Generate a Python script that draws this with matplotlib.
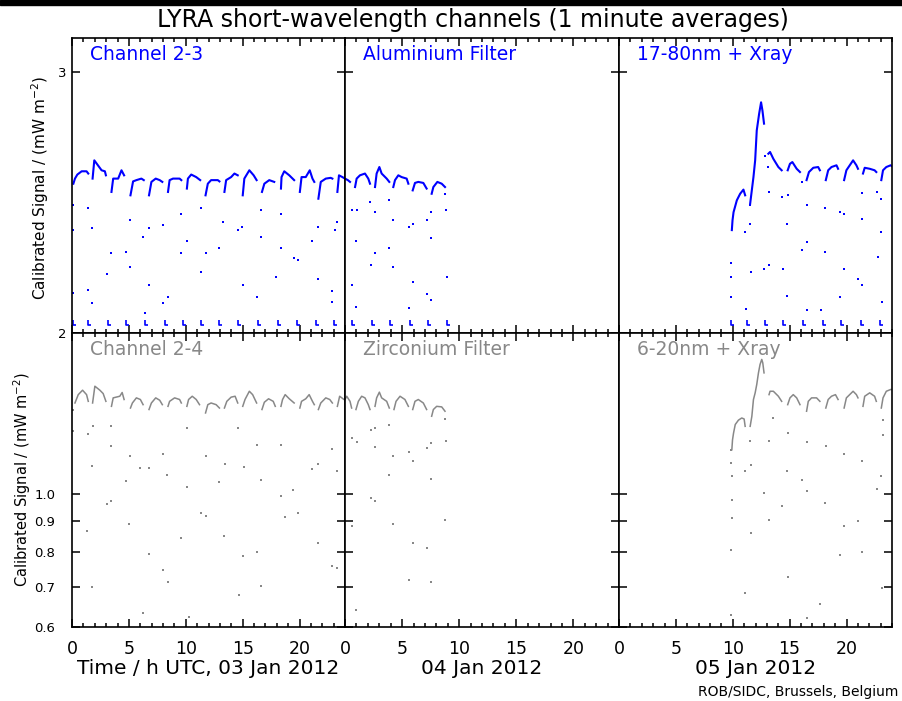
import numpy as np
import matplotlib
matplotlib.use("Agg")
import matplotlib.pyplot as plt
from matplotlib.path import Path
from matplotlib.patches import Rectangle
from matplotlib.ticker import FixedLocator, MultipleLocator, NullLocator, NullFormatter

nan = np.nan

# ---- 03 Jan 2012 -------------------------------------------------------
# Channel 2-3 (top), orbit segments split by nan
d1_ch23_t = [0.12, 0.26, 0.47, 0.85, 1.28, 1.43, nan,
             1.81, 1.96, 2.60, 2.89, 2.98, nan,
             3.47, 3.62, 4.06, 4.35, 4.58, nan,
             5.14, 5.37, 5.66, 6.10, 6.31, nan,
             6.77, 6.98, 7.36, 7.71, 7.94, nan,
             8.44, 8.58, 8.88, 9.46, 9.61, nan,
             10.10, 10.19, 10.48, 10.92, 11.27, nan,
             11.74, 11.94, 12.23, 12.82, 12.96, nan,
             13.40, 13.55, 13.99, 14.28, 14.57, nan,
             15.01, 15.15, 15.59, 15.97, 16.23, nan,
             16.70, 16.91, 17.34, 17.78, nan,
             18.37, 18.42, 18.66, 19.10, 19.53, nan,
             20.03, 20.18, 20.55, 20.90, 21.14, 21.30, nan,
             21.66, 21.87, 22.31, 22.74, 22.89, nan,
             23.33, 23.47, 23.77, 24.0]
d1_ch23_v = [2.521, 2.541, 2.557, 2.570, 2.570, 2.561, nan,
             2.541, 2.614, 2.574, 2.570, 2.554, nan,
             2.489, 2.541, 2.541, 2.574, 2.554, nan,
             2.476, 2.530, 2.535, 2.541, 2.535, nan,
             2.476, 2.528, 2.541, 2.535, 2.528, nan,
             2.489, 2.535, 2.541, 2.541, 2.535, nan,
             2.502, 2.541, 2.557, 2.547, 2.535, nan,
             2.476, 2.521, 2.535, 2.535, 2.530, nan,
             2.489, 2.535, 2.547, 2.561, 2.554, nan,
             2.476, 2.541, 2.574, 2.554, 2.535, nan,
             2.489, 2.521, 2.535, 2.528, nan,
             2.502, 2.547, 2.570, 2.554, 2.535, nan,
             2.489, 2.547, 2.547, 2.574, 2.541, 2.528, nan,
             2.463, 2.528, 2.541, 2.544, 2.541, nan,
             2.489, 2.554, 2.547, 2.541]
d1_ch23_dots_t = [0.12, 0.12, 0.12, 1.43, 1.72, 1.43, 1.72, 3.09, 3.47, 4.73,
                  5.08, 5.08, 6.25, 6.77, 6.77, 6.45, 8.0, 8.0, 8.43, 9.6,
                  9.6, 10.1, 11.35, 11.35, 11.79, 12.9, 13.3, 14.57, 14.95, 15.0,
                  16.26, 16.6, 16.6, 17.92, 18.36, 18.36, 19.53, 19.88, 21.13, 21.65,
                  21.65, 22.88, 22.88, 23.32, 23.1]
d1_ch23_dots_v = [2.438, 2.346, 2.128, 2.426, 2.352, 2.138, 2.094, 2.193, 2.264, 2.268,
                  2.382, 2.215, 2.322, 2.352, 2.154, 2.062, 2.364, 2.094, 2.116, 2.407,
                  2.264, 2.305, 2.426, 2.198, 2.264, 2.280, 2.376, 2.346, 2.358, 2.154,
                  2.116, 2.322, 2.419, 2.181, 2.280, 2.407, 2.246, 2.239, 2.305, 2.358,
                  2.176, 2.133, 2.100, 2.376, 2.346]
d1_floor_t = [0.12, 1.43, 3.18, 4.79, 6.45, 8.14, 9.75, 11.35, 12.96, 14.57,
              16.32, 18.07, 19.82, 21.43, 23.03]
d1_floor_v = [2.03, 2.03, 2.03, 2.03, 2.03, 2.03, 2.03, 2.03, 2.03, 2.03,
              2.03, 2.03, 2.03, 2.03, 2.03]

# Channel 2-4 (bottom)
d1_ch24_t = [0.26, 0.55, 0.93, 1.28, 1.43, nan,
             1.81, 2.01, 2.45, 2.74, 2.98, nan,
             3.47, 3.62, 4.20, 4.41, 4.58, nan,
             5.14, 5.31, 5.66, 6.01, 6.25, nan,
             6.77, 6.98, 7.36, 7.71, 7.94, nan,
             8.44, 8.58, 9.02, 9.46, 9.61, nan,
             10.10, 10.25, 10.57, 10.92, 11.21, nan,
             11.74, 11.94, 12.23, 12.67, 12.96, nan,
             13.40, 13.61, 13.99, 14.34, 14.57, nan,
             15.01, 15.21, 15.59, 15.88, 16.23, nan,
             16.70, 16.91, 17.28, 17.69, 17.87, nan,
             18.37, 18.51, 18.74, 19.10, 19.53, nan,
             20.03, 20.18, 20.55, 20.85, 21.14, 21.30, nan,
             21.66, 21.87, 22.31, 22.66, 22.89, nan,
             23.33, 23.53, 23.91, 24.0]
d1_ch24_v = [1.415, 1.461, 1.486, 1.461, 1.424, nan,
             1.415, 1.509, 1.486, 1.467, 1.424, nan,
             1.397, 1.443, 1.452, 1.473, 1.434, nan,
             1.388, 1.415, 1.443, 1.434, 1.406, nan,
             1.380, 1.415, 1.443, 1.430, 1.406, nan,
             1.397, 1.424, 1.443, 1.434, 1.415, nan,
             1.397, 1.434, 1.452, 1.434, 1.406, nan,
             1.362, 1.406, 1.415, 1.406, 1.388, nan,
             1.388, 1.424, 1.447, 1.452, 1.415, nan,
             1.397, 1.434, 1.480, 1.461, 1.415, nan,
             1.380, 1.419, 1.438, 1.424, 1.397, nan,
             1.397, 1.434, 1.461, 1.438, 1.415, nan,
             1.388, 1.424, 1.438, 1.461, 1.424, 1.406, nan,
             1.380, 1.415, 1.443, 1.434, 1.415, nan,
             1.397, 1.452, 1.434, 1.434]
d1_ch24_dots_t = [0.06, 0.06, 1.43, 1.87, 1.72, 1.34, 1.78, 3.09, 3.47, 3.47,
                  3.47, 4.73, 5.02, 5.08, 5.96, 6.77, 6.77, 6.25, 8.0, 8.35,
                  8.0, 8.43, 9.6, 10.1, 10.1, 10.25, 11.35, 11.74, 11.79, 12.9,
                  13.34, 13.43, 14.57, 14.65, 15.0, 15.09, 16.23, 16.23, 16.6, 16.6,
                  18.36, 18.36, 18.74, 19.47, 19.91, 21.13, 21.65, 21.65, 22.88, 23.26,
                  22.88, 23.32]
d1_ch24_dots_v = [1.269, 1.380, 1.257, 1.294, 1.110, 0.867, 0.699, 0.962, 0.974, 1.199,
                  1.294, 1.051, 0.890, 1.154, 1.103, 1.103, 0.794, 0.634, 1.164, 1.075,
                  0.747, 0.714, 0.843, 1.024, 1.286, 0.623, 0.930, 0.919, 1.157, 1.047,
                  0.849, 1.122, 1.286, 0.677, 0.789, 1.107, 1.203, 0.801, 0.702, 1.055,
                  1.203, 0.992, 0.916, 1.015, 0.930, 1.100, 1.122, 0.827, 0.758, 0.752,
                  1.188, 1.089]

# ---- 04 Jan 2012 -------------------------------------------------------
d2_alu_t = [0.0, 0.25, 0.44, nan,
            0.88, 1.02, 1.31, 1.75, 2.04, 2.19, nan,
            2.63, 2.77, 3.01, 3.21, 3.65, 3.88, nan,
            4.23, 4.38, 4.67, 4.96, 5.40, 5.55, nan,
            5.93, 6.13, 6.42, 6.86, 7.15, nan,
            7.59, 7.74, 8.09, 8.47, 8.76]
d2_alu_v = [2.541, 2.535, 2.528, nan,
            2.508, 2.541, 2.554, 2.561, 2.541, 2.521, nan,
            2.508, 2.561, 2.587, 2.561, 2.541, 2.528, nan,
            2.508, 2.535, 2.554, 2.547, 2.541, 2.521, nan,
            2.495, 2.524, 2.528, 2.524, 2.502, nan,
            2.482, 2.508, 2.528, 2.521, 2.508]
d2_alu_dots_t = [0.58, 1.02, 0.96, 0.58, 0.96, 2.25, 2.63, 2.63, 2.19, 3.88,
                 3.88, 4.23, 4.23, 5.60, 5.93, 5.93, 5.60, 7.15, 7.53, 7.15,
                 7.53, 7.53, 8.76, 8.84, 8.90]
d2_alu_dots_v = [2.419, 2.419, 2.305, 2.154, 2.083, 2.222, 2.412, 2.265, 2.450, 2.280,
                 2.457, 2.382, 2.215, 2.358, 2.370, 2.165, 2.078, 2.382, 2.316, 2.126,
                 2.104, 2.412, 2.482, 2.419, 2.180]
d2_floor_t = [0.58, 2.34, 3.94, 5.69, 7.30, 8.90]
d2_floor_v = [2.03, 2.03, 2.03, 2.03, 2.03, 2.03]

d2_zr_t = [0.0, 0.15, 0.44, 0.58, nan,
           0.96, 1.17, 1.46, 1.75, 2.04, 2.19, nan,
           2.63, 2.77, 3.01, 3.21, 3.65, 3.88, nan,
           4.29, 4.47, 4.82, 5.25, 5.55, nan,
           5.93, 6.13, 6.42, 6.86, 7.15, nan,
           7.59, 7.74, 8.03, 8.47, 8.76]
d2_zr_v = [1.434, 1.452, 1.424, 1.388, nan,
           1.380, 1.424, 1.452, 1.443, 1.406, 1.380, nan,
           1.397, 1.443, 1.475, 1.443, 1.424, 1.388, nan,
           1.380, 1.424, 1.452, 1.434, 1.397, nan,
           1.380, 1.424, 1.434, 1.415, 1.380, nan,
           1.345, 1.380, 1.397, 1.394, 1.371]
d2_zr_dots_t = [0.58, 1.02, 0.58, 0.96, 2.25, 2.63, 2.63, 2.25, 2.63, 3.88,
                3.88, 4.23, 4.23, 5.60, 5.93, 5.93, 5.60, 7.15, 7.53, 7.53,
                7.15, 7.53, 8.76, 8.84, 8.76]
d2_zr_dots_v = [1.237, 1.217, 0.884, 0.640, 1.274, 1.286, 1.195, 0.983, 0.974, 1.075,
                1.303, 1.154, 0.891, 1.171, 1.135, 0.829, 0.719, 1.191, 1.214, 1.057,
                0.812, 0.714, 1.332, 1.222, 0.905]

# ---- 05 Jan 2012 -------------------------------------------------------
d3_euv_t = [9.92, 9.98, 10.07, 10.36, 10.65, 10.94, 11.09, nan,
            11.53, 11.82, 11.97, 12.11, 12.32, 12.49, 12.61, 12.75, nan,
            13.13, 13.28, 13.57, 14.01, 14.30, nan,
            14.83, 15.03, 15.24, 15.62, 15.91, nan,
            16.49, 16.70, 17.08, 17.51, 17.66, nan,
            18.18, 18.39, 18.68, 19.12, 19.26, nan,
            19.79, 19.99, 20.58, 20.87, 21.01, nan,
            21.45, 21.60, 22.04, 22.47, 22.62, nan,
            23.06, 23.21, 23.50, 23.88, 24.0]
d3_euv_v = [2.346, 2.382, 2.412, 2.457, 2.482, 2.498, 2.476, nan,
            2.444, 2.547, 2.614, 2.738, 2.810, 2.860, 2.824, 2.767, nan,
            2.641, 2.648, 2.620, 2.587, 2.574, nan,
            2.574, 2.600, 2.607, 2.580, 2.567, nan,
            2.535, 2.567, 2.584, 2.587, 2.574, nan,
            2.535, 2.574, 2.587, 2.594, 2.580, nan,
            2.535, 2.574, 2.614, 2.594, 2.580, nan,
            2.561, 2.584, 2.580, 2.574, 2.567, nan,
            2.535, 2.574, 2.587, 2.594, 2.590]
d3_euv_dots_t = [9.86, 9.86, 9.86, 11.09, 11.18, 11.53, 11.53, 11.59, 12.84, 13.13,
                 12.79, 13.19, 13.19, 14.36, 14.39, 14.80, 14.83, 14.80, 16.05, 16.49,
                 16.49, 16.11, 16.49, 17.75, 18.10, 18.10, 19.41, 19.79, 19.79, 19.41,
                 21.01, 21.39, 21.39, 21.39, 22.68, 23.06, 23.06, 22.77, 23.12]
d3_euv_dots_v = [2.228, 2.182, 2.115, 2.339, 2.077, 2.370, 2.438, 2.199, 2.630, 2.587,
                 2.210, 2.222, 2.489, 2.468, 2.210, 2.370, 2.476, 2.119, 2.528, 2.440,
                 2.303, 2.276, 2.072, 2.072, 2.428, 2.268, 2.412, 2.406, 2.207, 2.115,
                 2.176, 2.388, 2.485, 2.154, 2.489, 2.462, 2.339, 2.251, 2.098]
d3_floor_t = [9.86, 11.24, 12.84, 14.45, 16.20, 17.95, 19.56, 21.31, 22.91]
d3_floor_v = [2.03, 2.03, 2.03, 2.03, 2.03, 2.03, 2.03, 2.03, 2.03]

d3_sxr_t = [9.92, 9.98, 10.07, 10.22, 10.50, 10.79, 11.00, 11.09, nan,
            11.53, 11.68, 11.82, 11.97, 12.11, 12.26, 12.40, 12.55, 12.64, 12.75, nan,
            13.19, 13.28, 13.57, 14.01, 14.30, nan,
            14.83, 15.03, 15.32, 15.62, 15.91, nan,
            16.49, 16.64, 16.93, 17.37, 17.66, nan,
            18.18, 18.39, 18.68, 19.03, 19.26, nan,
            19.79, 19.99, 20.58, 20.87, 21.01, nan,
            21.45, 21.60, 22.04, 22.47, 22.62, nan,
            23.06, 23.21, 23.50, 23.88, 24.0]
d3_sxr_v = [1.183, 1.229, 1.261, 1.303, 1.325, 1.336, 1.331, 1.294, nan,
            1.294, 1.345, 1.434, 1.471, 1.519, 1.588, 1.640, 1.672, 1.650, 1.588, nan,
            1.461, 1.480, 1.480, 1.452, 1.424, nan,
            1.406, 1.443, 1.461, 1.443, 1.406, nan,
            1.371, 1.424, 1.443, 1.443, 1.424, nan,
            1.388, 1.434, 1.452, 1.461, 1.434, nan,
            1.388, 1.443, 1.480, 1.461, 1.443, nan,
            1.397, 1.452, 1.471, 1.452, 1.424, nan,
            1.388, 1.443, 1.480, 1.490, 1.490]
d3_sxr_dots_t = [9.86, 9.86, 9.92, 9.92, 9.92, 9.86, 9.86, 11.09, 11.09, 11.53,
                 11.59, 11.59, 12.75, 13.19, 13.19, 13.57, 14.36, 14.80, 14.83, 14.83,
                 16.11, 16.49, 16.49, 16.49, 17.66, 18.10, 18.18, 19.41, 19.79, 19.79,
                 21.01, 21.39, 21.39, 22.68, 23.06, 23.12, 23.21, 23.21]
d3_sxr_dots_v = [1.183, 1.124, 1.069, 0.977, 0.910, 0.806, 0.628, 1.089, 0.683, 1.222,
                 1.117, 0.861, 1.002, 1.222, 0.905, 1.336, 0.954, 1.089, 0.728, 1.261,
                 1.055, 1.217, 1.009, 0.620, 0.655, 0.964, 1.202, 0.791, 1.166, 0.884,
                 0.899, 1.135, 0.801, 1.017, 1.069, 0.696, 1.328, 1.253]

# ---- layout ------------------------------------------------------------
W, H = 902, 701
blue = "#0000ff"
grey = "#888888"
col_edges = [72, 345, 619, 892]
row_edges = [(38, 333), (333, 627)]

fig = plt.figure(figsize=(W / 100, H / 100), dpi=100)
fig.patches.append(Rectangle((0, 1 - 4.5 / H), 1, 4.5 / H, transform=fig.transFigure,
                             color="black", zorder=10))

# little "L" used for the clipped occultation minima
floor_mark = Path([(0, 1.4), (0, -1), (1.6, -1)], [Path.MOVETO, Path.LINETO, Path.LINETO])

panels = [
    (0, 0, d1_ch23_t, d1_ch23_v, d1_ch23_dots_t, d1_ch23_dots_v, d1_floor_t, d1_floor_v, "Channel 2-3", blue),
    (1, 0, d2_alu_t, d2_alu_v, d2_alu_dots_t, d2_alu_dots_v, d2_floor_t, d2_floor_v, "Aluminium Filter", blue),
    (2, 0, d3_euv_t, d3_euv_v, d3_euv_dots_t, d3_euv_dots_v, d3_floor_t, d3_floor_v, "17-80nm + Xray", blue),
    (0, 1, d1_ch24_t, d1_ch24_v, d1_ch24_dots_t, d1_ch24_dots_v, None, None, "Channel 2-4", grey),
    (1, 1, d2_zr_t, d2_zr_v, d2_zr_dots_t, d2_zr_dots_v, None, None, "Zirconium Filter", grey),
    (2, 1, d3_sxr_t, d3_sxr_v, d3_sxr_dots_t, d3_sxr_dots_v, None, None, "6-20nm + Xray", grey),
]

for col, row, ct, cv, st, sv, ft, fv, label, color in panels:
    x0, x1 = col_edges[col], col_edges[col + 1]
    y0, y1 = row_edges[row]
    ax = fig.add_axes([x0 / W, 1 - y1 / H, (x1 - x0) / W, (y1 - y0) / H])

    lw = 1.5 if color == blue else 1.1
    ax.plot(ct, cv, "-", color=color, lw=lw)
    ax.plot(st, sv, "s", color=color, ms=1.6, mew=0)
    if ft is not None:
        ax.plot(ft, fv, ls="none", marker=floor_mark, ms=5, mfc="none", mec=color, mew=1.2)

    ax.set_xlim(0, 24)
    ax.set_yscale("log")
    if row == 0:
        ax.set_ylim(2.0, 3.16)
        ax.yaxis.set_major_locator(FixedLocator([2, 3]))
        ax.set_yticklabels(["2", "3"])
        ypad = 4
    else:
        ax.set_ylim(0.6, 1.85)
        ax.yaxis.set_major_locator(FixedLocator([0.6, 0.7, 0.8, 0.9, 1.0]))
        ax.set_yticklabels(["0.6", "0.7", "0.8", "0.9", "1.0"])
        ypad = 12
    ax.yaxis.set_minor_locator(NullLocator())
    ax.yaxis.set_minor_formatter(NullFormatter())
    ax.xaxis.set_major_locator(FixedLocator([0, 5, 10, 15, 20]))
    ax.xaxis.set_minor_locator(MultipleLocator(1))
    ax.set_xticklabels(["0", "5", "10", "15", "20"])

    ax.tick_params(which="both", direction="in", top=True, right=True, width=1.1,
                   colors="black")
    ax.tick_params(which="major", length=6)
    ax.tick_params(which="minor", length=3)
    ax.tick_params(axis="x", pad=9, labelsize=12.5)
    ax.tick_params(axis="y", pad=ypad, labelsize=9.5)
    if row == 0:
        ax.tick_params(axis="x", labelbottom=False)
    if col > 0:
        ax.tick_params(axis="y", labelleft=False)
    for sp in ax.spines.values():
        sp.set_linewidth(1.2)

    ax.text(0.066, 0.975, label, transform=ax.transAxes, va="top", ha="left",
            color=color, fontsize=13.5)

fig.text(473 / W, 1 - 20 / H, "LYRA short-wavelength channels (1 minute averages)",
         ha="center", va="center", fontsize=17)

fig.text(40 / W, 1 - 188 / H, r"Calibrated Signal / (mW m$^{-2}$)", rotation=90,
         ha="center", va="center", fontsize=11)
fig.text(22 / W, 1 - 480 / H, r"Calibrated Signal / (mW m$^{-2}$)", rotation=90,
         ha="center", va="center", fontsize=10.5)

day_labels = ["Time / h UTC, 03 Jan 2012", "04 Jan 2012", "05 Jan 2012"]
for i, txt in enumerate(day_labels):
    xc = (col_edges[i] + col_edges[i + 1]) / 2
    fig.text(xc / W, 1 - 668 / H, txt, ha="center", va="center", fontsize=14.5)

fig.text(898 / W, 1 - 692 / H, "ROB/SIDC, Brussels, Belgium", ha="right", va="center",
         fontsize=10)

fig.savefig("out.png", dpi=100)
